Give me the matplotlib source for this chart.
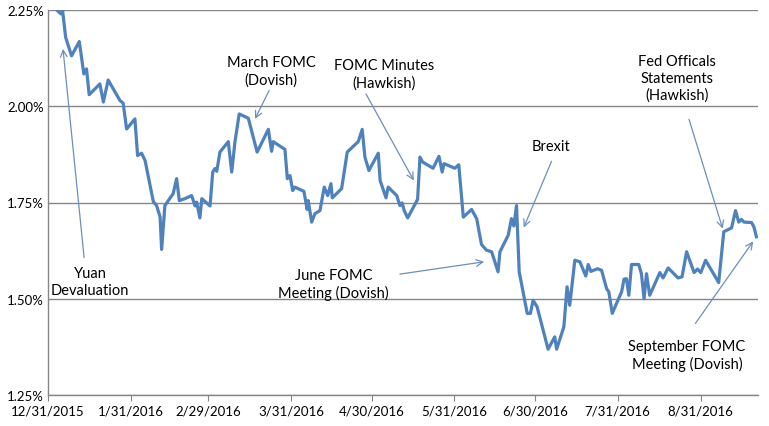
import numpy as np
import matplotlib
matplotlib.use("Agg")
import matplotlib.pyplot as plt
import matplotlib.dates as mdates
from matplotlib.ticker import FuncFormatter

plt.rcParams['font.family'] = ['Lato', 'DejaVu Sans']

# days after 12/31/2015 and 10y yield (%)
days = [3.3, 4.8, 5.5, 6.6, 8.8, 11.7, 13.4, 14.4, 15.4, 19.4, 20.7, 22.5,
        26.9, 28.1, 29.4, 32.5, 33.5, 35.0, 36.3, 39.4, 40.6, 41.9, 42.5,
        43.7, 46.8, 48.1, 49.1, 51.2, 53.7, 55.0, 55.6, 56.8, 57.5, 60.6,
        61.6, 62.4, 63.1, 64.3, 67.4, 68.7, 69.9, 71.5, 74.9, 78.2, 82.4,
        83.6, 84.2, 88.6, 89.5, 90.5, 91.5, 92.3, 95.7, 96.9, 97.3, 98.6,
        99.8, 101.7, 103.3, 104.6, 105.8, 106.3, 109.8, 111.9, 116.0, 117.5,
        118.5, 120.0, 123.5, 124.2, 126.4, 127.2, 130.4, 131.6, 132.4, 133.2,
        134.5, 138.2, 139.1, 140.1, 144.0, 146.2, 147.4, 148.1, 152.1, 153.6,
        155.3, 158.4, 160.3, 162.1, 164.0, 165.9, 168.3, 169.0, 172.1, 173.3,
        174.2, 175.2, 176.2, 179.2, 180.4, 181.4, 182.9, 187.0, 189.5, 190.2,
        192.9, 194.1, 195.1, 197.0, 198.9, 201.1, 202.0, 203.0, 205.5, 207.0,
        208.9, 209.7, 211.0, 212.6, 214.5, 215.4, 216.3, 217.2, 218.2, 220.9,
        221.9, 222.9, 223.8, 225.0, 228.8, 230.0, 231.9, 235.6, 237.1, 238.8,
        241.6, 242.9, 244.1, 245.9, 250.8, 252.7, 255.6, 257.1, 258.3, 259.3,
        260.3, 263.1, 264.0, 264.9]
yields = [2.25, 2.24, 2.246, 2.179, 2.131, 2.168, 2.084, 2.097, 2.030, 2.058,
          2.011, 2.068, 2.015, 2.008, 1.941, 1.967, 1.872, 1.878, 1.859,
          1.752, 1.742, 1.713, 1.628, 1.742, 1.773, 1.812, 1.755, 1.760,
          1.768, 1.741, 1.751, 1.710, 1.760, 1.741, 1.829, 1.838, 1.831,
          1.881, 1.908, 1.829, 1.907, 1.980, 1.969, 1.881, 1.940, 1.883,
          1.908, 1.888, 1.812, 1.820, 1.781, 1.790, 1.779, 1.732, 1.755,
          1.699, 1.721, 1.729, 1.790, 1.768, 1.799, 1.762, 1.786, 1.881,
          1.908, 1.940, 1.868, 1.833, 1.878, 1.807, 1.762, 1.790, 1.768,
          1.742, 1.749, 1.729, 1.710, 1.758, 1.868, 1.855, 1.839, 1.870,
          1.829, 1.851, 1.839, 1.848, 1.712, 1.732, 1.708, 1.641, 1.626,
          1.622, 1.570, 1.622, 1.665, 1.708, 1.689, 1.742, 1.570, 1.462,
          1.462, 1.496, 1.479, 1.369, 1.401, 1.369, 1.427, 1.531, 1.483,
          1.600, 1.596, 1.559, 1.589, 1.571, 1.578, 1.574, 1.526, 1.518,
          1.462, 1.488, 1.518, 1.551, 1.552, 1.509, 1.589, 1.589, 1.565,
          1.500, 1.565, 1.509, 1.568, 1.554, 1.580, 1.554, 1.557, 1.622,
          1.568, 1.577, 1.568, 1.600, 1.542, 1.674, 1.684, 1.729, 1.699,
          1.706, 1.699, 1.698, 1.686, 1.661]

tick_dates = ['2015-12-31', '2016-01-31', '2016-02-29', '2016-03-31',
              '2016-04-30', '2016-05-31', '2016-06-30', '2016-07-31',
              '2016-08-31']
tick_labels = ['12/31/2015', '1/31/2016', '2/29/2016', '3/31/2016',
               '4/30/2016', '5/31/2016', '6/30/2016', '7/31/2016',
               '8/31/2016']

# text, text position (day, %), arrow start, arrow tip
notes = [
    ("Yuan\nDevaluation", (15.7, 1.545), (13.5, 1.607), (5.6, 2.149)),
    ("March FOMC\n(Dovish)", (83.4, 2.092), (82.7, 2.041), (77.4, 1.967)),
    ("FOMC Minutes\n(Hawkish)", (125.6, 2.084), (118.9, 2.032), (136.8, 1.807)),
    ("Brexit", (188.0, 1.897), (188.3, 1.857), (177.9, 1.685)),
    ("Fed Officals\nStatements\n(Hawkish)", (235.1, 2.074), (239.7, 1.966), (252.3, 1.682)),
    ("June FOMC\nMeeting (Dovish)", (106.7, 1.539), (131.6, 1.564), (163.1, 1.596)),
    ("September FOMC\nMeeting (Dovish)", (238.9, 1.355), (242.1, 1.436), (263.7, 1.649)),
]

t0 = mdates.datestr2num('2015-12-31')
x = t0 + np.array(days)

fig = plt.figure(figsize=(7.69, 4.27), dpi=100)
ax = fig.add_axes([48 / 769, 1 - 396 / 427, 710 / 769, 385 / 427])

ax.plot(x, yields, color='#4F81BD', linewidth=2.3, solid_joinstyle='round')

ax.set_ylim(1.25, 2.25)
ax.set_yticks([1.25, 1.50, 1.75, 2.00, 2.25])
ax.yaxis.set_major_formatter(FuncFormatter(lambda v, p: '%.2f%%' % v))
ax.set_xlim(t0, t0 + 265.5)
ax.set_xticks([mdates.datestr2num(d) for d in tick_dates])
ax.set_xticklabels(tick_labels)

ax.grid(axis='y', color='#868686', linewidth=1.0)
ax.set_axisbelow(True)
for s in ['top', 'right']:
    ax.spines[s].set_visible(False)
for s in ['left', 'bottom']:
    ax.spines[s].set_color('#868686')
    ax.spines[s].set_linewidth(1.0)
ax.tick_params(axis='x', colors='#868686', labelcolor='black', length=4,
               labelsize=9.5, pad=3)
ax.tick_params(axis='y', colors='#868686', labelcolor='black', length=0,
               labelsize=9.5, pad=3)

for txt, pos, start, tip in notes:
    ax.text(t0 + pos[0], pos[1], txt, ha='center', va='center',
            fontsize=10.5, linespacing=1.25, color='black')
    ax.annotate('', xy=(t0 + tip[0], tip[1]), xytext=(t0 + start[0], start[1]),
                arrowprops=dict(arrowstyle='->', color='#6C8EBF', lw=0.9,
                                shrinkA=0, shrinkB=0, mutation_scale=12))

fig.savefig('out.png', dpi=100)
